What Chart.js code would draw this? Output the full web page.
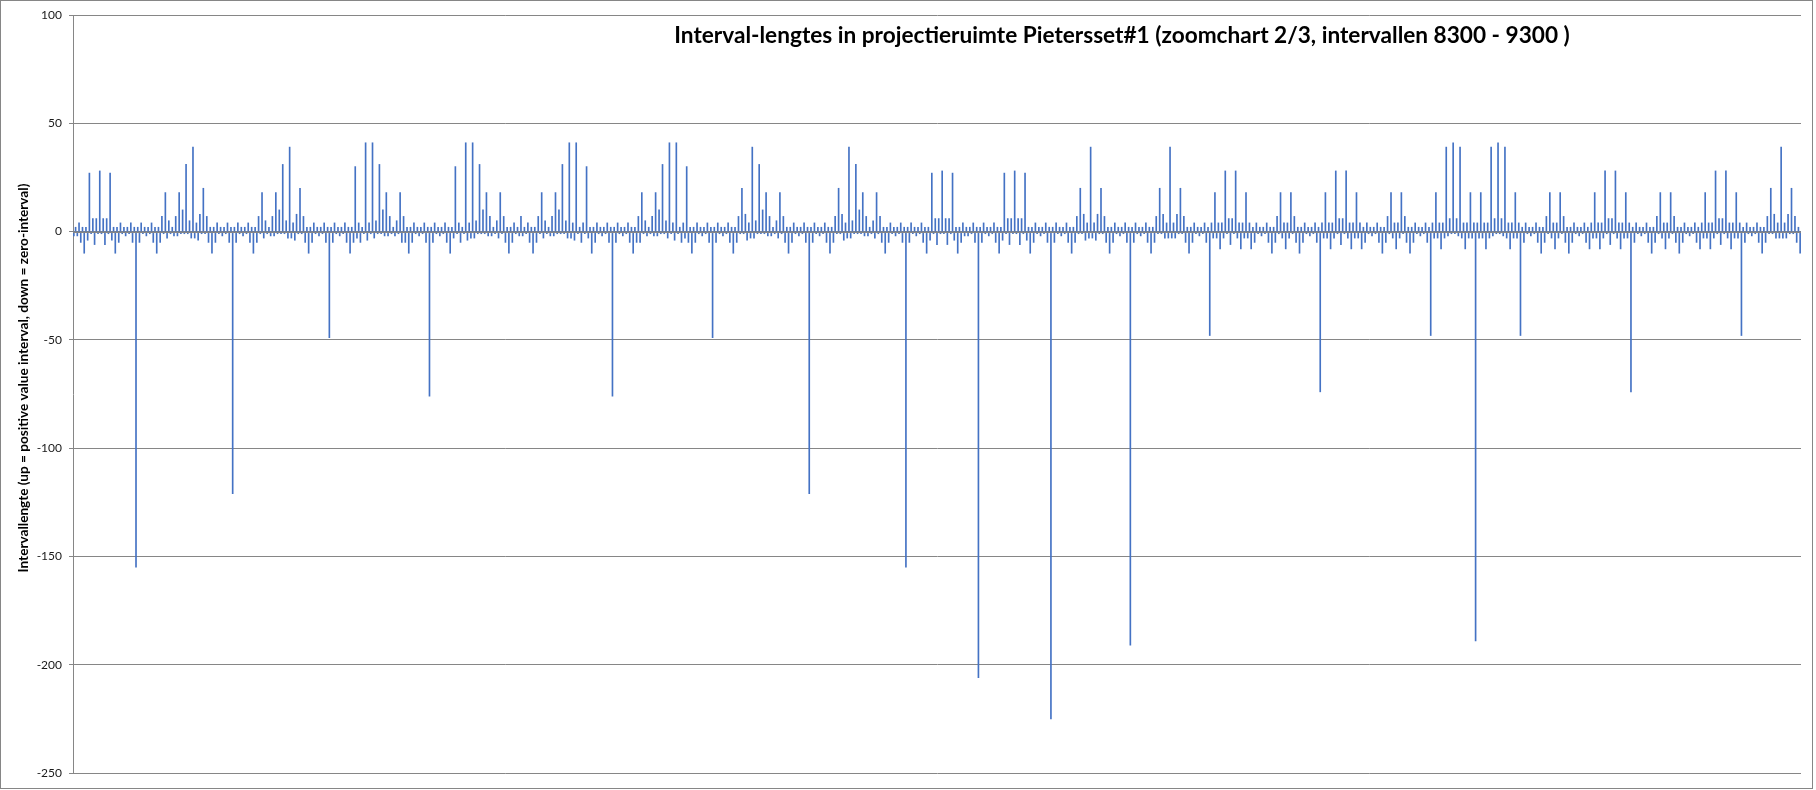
<!DOCTYPE html>
<html>
<head>
<meta charset="utf-8">
<script src="https://cdn.jsdelivr.net/npm/chart.js@4.4.0/dist/chart.umd.min.js"></script>
<style>
    html, body { margin: 0; padding: 0; background: #fff; }
    canvas { display: block; }
</style>
</head>
<body>
<canvas id="interval-chart" width="1816" height="790"></canvas>
<script>
// interval lengths 8300 - 9300
const firstInterval = 8300

const lengthsPart1 = [
    -2,
    2,-2,4,-5,2,-10,2,-4,27,-1,
    6,-6,6,-1,28,-1,6,-6,6,-1,
    27,-4,2,-10,2,-5,4,-1,2,-2,
    2,-1,4,-5,2,-155,2,-5,4,-1,
    2,-2,2,-1,4,-5,2,-10,2,-5,
    7,-1,18,-3,5,-1,2,-2,7,-2,
    18,-1,10,-1,31,-1,5,-3,39,-3,
    4,-4,8,-1,20,-1,7,-5,2,-10,
    2,-5,4,-1,2,-2,2,-1,4,-5,
    2,-121,2,-5,4,-1,2,-2,2,-1,
    4,-5,2,-10,2,-5,7,-1,18,-3,
    5,-1,2,-2,7,-2,18,-1,10,-1,
    31,-1,5,-3,39,-3,4,-4,8,-1,
    20,-1,7,-5,2,-10,2,-5,4,-1,
    2,-2,2,-1,4,-5,2,-49,2,-5,
    4,-1,2,-2,2,-1,4,-5,2,-10,
    2,-5,30,-3,4,-5,2,-1,41,-4,
    4,-1,41,-3,5,-1,31,-1,10,-2,
    18,-2,7,-1,2,-2,5,-1,18,-5,
    7,-5,2,-10,2,-5,4,-1,2,-2,
    2,-1,4,-5,2,-76,2,-5,4,-1,
    2,-2,2,-1,4,-5,2,-10,2,-3,
    30,-1,4,-5,2,-1,41,-4,4,-3,
    41,-3,5,-1,31,-1,10,-1,18,-2,
    7,-2,2,-1,5,-3,18,-1,7,-5,
    2,-10,2,-5,4,-1,2,-2,7
]

const lengthsPart2 = [
    -2,2,-1,4,-5,2,-10,2,
    -5,7,-1,18,-3,5,-1,2,-2,7,
    -2,18,-1,10,-1,31,-1,5,-3,41,
    -3,4,-4,41,-1,2,-5,4,-1,30,
    -3,2,-10,2,-5,4,-1,2,-2,2,
    -1,4,-5,2,-76,2,-5,4,-1,2,
    -2,2,-1,4,-5,2,-10,2,-5,7,
    -5,18,-1,5,-2,2,-1,7,-2,18,
    -2,10,-1,31,-1,5,-3,41,-1,4,
    -4,41,-1,2,-5,4,-3,30,-5,2,
    -10,2,-5,4,-1,2,-2,2,-1,4,
    -5,2,-49,2,-5,4,-1,2,-2,2,
    -1,4,-5,2,-10,2,-5,7,-1,20,
    -1,8,-4,4,-3,39,-3,5,-1,31,
    -1,10,-1,18,-2,7,-2,2,-1,5,
    -3,18,-1,7,-5,2,-10,2,-5,4,
    -1,2,-2,2,-1,4,-5,2,-121,2,
    -5,4,-1,2,-2,2,-1,4,-5,2,
    -10,2,-5,7,-1,20,-1,8,-4,4,
    -3,39,-3,5,-1,31,-1,10,-1,18,
    -2,7,-2,2,-1,5,-3,18,-1,7,
    -5,2,-10,2,-5,4,-1,2,-2,2,
    -1,4,-5,2,-155,2,-5,4,-1,2,
    -2,2,-1,4,-5,2,-10,2,-4,27,
    -1,6,-6,6,-1,28,-1,6,-6,6,
    -1,27,-4,2,-10,2,-5,4,-2,2
]

const lengthsPart3 = [
    -2,2,-1,4,-5,2,-206,2,-5,4,
    -1,2,-2,2,-1,4,-5,2,-10,2,
    -4,27,-1,6,-6,6,-1,28,-1,6,
    -6,6,-1,27,-4,2,-10,2,-5,4,
    -1,2,-2,2,-1,4,-5,2,-225,2,
    -5,4,-1,2,-2,2,-1,4,-5,2,
    -10,2,-5,7,-1,20,-1,8,-4,4,
    -3,39,-3,4,-4,8,-1,20,-1,7,
    -5,2,-10,2,-5,4,-1,2,-2,2,
    -1,4,-5,2,-191,2,-5,4,-1,2,
    -2,2,-1,4,-5,2,-10,2,-5,7,
    -1,20,-1,8,-3,4,-3,39,-3,4,
    -3,8,-1,20,-1,7,-5,2,-10,2,
    -5,4,-1,2,-2,2,-1,4,-5,2,
    -48,4,-3,18,-3,4,-8,4,-3,28,
    -1,6,-6,6,-1,28,-3,4,-8,4,
    -3,18,-3,4,-8,2,-5,4,-1,2,
    -2,2,-1,4,-5,2,-10,2,-5,7,
    -1,18,-3,4,-8,4,-3,18,-1,7,
    -5,2,-10,2,-5,4,-1,2,-2,2,
    -1,4,-5,2,-74,4,-3,18,-3,4,
    -8,4,-3,28,-1,6,-6,6,-1,28,
    -3,4,-8,4,-3,18,-3,4,-8,2,
    -5,4,-1,2,-2,2,-1,4,-5,2,
    -10,2,-5,7,-1,18,-3,4,-8,4,
    -3,18,-1,7,-5,2,-10,2,-5,4,
    -1,2,-2,2,-1,4,-5,2,-48,4,
    -3,18,-3,4,-8,4,-3,39,-2,6,
    -1,41,-1,6,-2,39,-3,4,-8,4,
    -3,18,-3,4,-189
]

const lengthsPart4 = [
    4,-3,18,-3,
    4,-8,4,-3,39,-2,6,-1,41,-1,
    6,-2,39,-3,4,-8,4,-3,18,-3,
    4,-48,2,-5,4,-1,2,-2,2,-1,
    4,-5,2,-10,2,-5,7,-1,18,-3,
    4,-8,4,-3,18,-1,7,-5,2,-10,
    2,-5,4,-1,2,-2,2,-1,4,-5,
    2,-8,4,-3,18,-3,4,-8,4,-3,
    28,-1,6,-6,6,-1,28,-3,4,-8,
    4,-3,18,-3,4,-74,2,-5,4,-1,
    2,-2,2,-1,4,-5,2,-10,2,-5,
    7,-1,18,-3,4,-8,4,-3,18,-1,
    7,-5,2,-10,2,-5,4,-1,2,-2,
    2,-1,4,-5,2,-8,4,-3,18,-3,
    4,-8,4,-3,28,-1,6,-6,6,-1,
    28,-3,4,-8,4,-3,18,-3,4,-48,
    2,-5,4,-1,2,-2,2,-1,4,-5,
    2,-10,2,-5,7,-1,20,-1,8,-3,
    4,-3,39,-3,4,-3,8,-1,20,-1,
    7,-5,2,-10
]

const yMin = -250
const yMax = 100
const yStep = 50

const chartTitle = 'Interval-lengtes in projectieruimte Pietersset#1 (zoomchart 2/3, intervallen 8300 - 9300 )'
const yTitle = 'Intervallengte (up = positive value interval, down = zero-interval)'

const lengths = [...lengthsPart1, ...lengthsPart2, ...lengthsPart3, ...lengthsPart4]
const intervals = lengths.map((v, i) => String(firstInterval + i))

const axisGray = '#868686'

const fitFont = function (ctx, text, weight, family, targetWidth) {
    ctx.font = weight + ' 20px ' + family
    const w = ctx.measureText(text).width
    return 20 * targetWidth / w
}

const excelLook = {
    id: 'excelLook',
    beforeDraw(chart) {
        const ctx = chart.ctx
        ctx.save()
        ctx.fillStyle = '#fff'
        ctx.fillRect(0, 0, chart.width, chart.height)
        ctx.restore()
    },
    afterDatasetsDraw(chart) {
        const ctx = chart.ctx
        const area = chart.chartArea
        const y0 = Math.round(chart.scales.y.getPixelForValue(0)) + 0.5
        ctx.save()
        ctx.strokeStyle = axisGray
        ctx.lineWidth = 1
        ctx.beginPath()
        ctx.moveTo(area.left, y0)
        ctx.lineTo(area.right, y0)
        ctx.stroke()
        ctx.restore()
    },
    afterDraw(chart) {
        const ctx = chart.ctx
        ctx.save()
        // chart title, sits right of centre like in the original sheet
        let size = fitFont(ctx, chartTitle, 'bold', 'Lato', 896)
        ctx.font = 'bold ' + size.toFixed(2) + 'px Lato'
        ctx.fillStyle = '#000'
        ctx.textAlign = 'center'
        ctx.textBaseline = 'middle'
        ctx.fillText(chartTitle, 1122, 36)

        // vertical axis title
        size = fitFont(ctx, yTitle, 'bold', 'Lato', 389)
        ctx.font = 'bold ' + size.toFixed(2) + 'px Lato'
        ctx.translate(24, 378)
        ctx.rotate(-Math.PI / 2)
        ctx.fillText(yTitle, 0, 0)
        ctx.restore()

        // outer frame of the chart object
        ctx.save()
        ctx.strokeStyle = axisGray
        ctx.lineWidth = 1
        ctx.strokeRect(0.5, 0.5, 1812, 788)
        ctx.restore()
    }
}

const ctx = document.getElementById('interval-chart').getContext('2d')
const intervalChart = new Chart(ctx, {
    type: 'bar',
    data: {
        labels: intervals,
        datasets: [{
            label: 'Intervallengte',
            data: lengths,
            backgroundColor: '#4472c4',
            borderWidth: 0,
            barThickness: 1
        }]
    },
    options: {
        responsive: false,
        devicePixelRatio: 1,
        animation: false,
        layout: {
            padding: {top: 15, right: 15, bottom: 17, left: 0}
        },
        plugins: {
            legend: {display: false},
            tooltip: {enabled: false},
            title: {display: false}
        },
        scales: {
            x: {
                display: false
            },
            y: {
                min: yMin,
                max: yMax,
                afterFit(scale) {
                    scale.width = 73
                },
                ticks: {
                    stepSize: yStep,
                    padding: 7,
                    color: '#1a1a1a',
                    font: {family: 'Lato', size: 12}
                },
                grid: {
                    color: axisGray,
                    lineWidth: 1,
                    tickLength: 4
                },
                border: {
                    display: true,
                    color: axisGray
                }
            }
        }
    },
    plugins: [excelLook]
})
</script>
</body>
</html>
